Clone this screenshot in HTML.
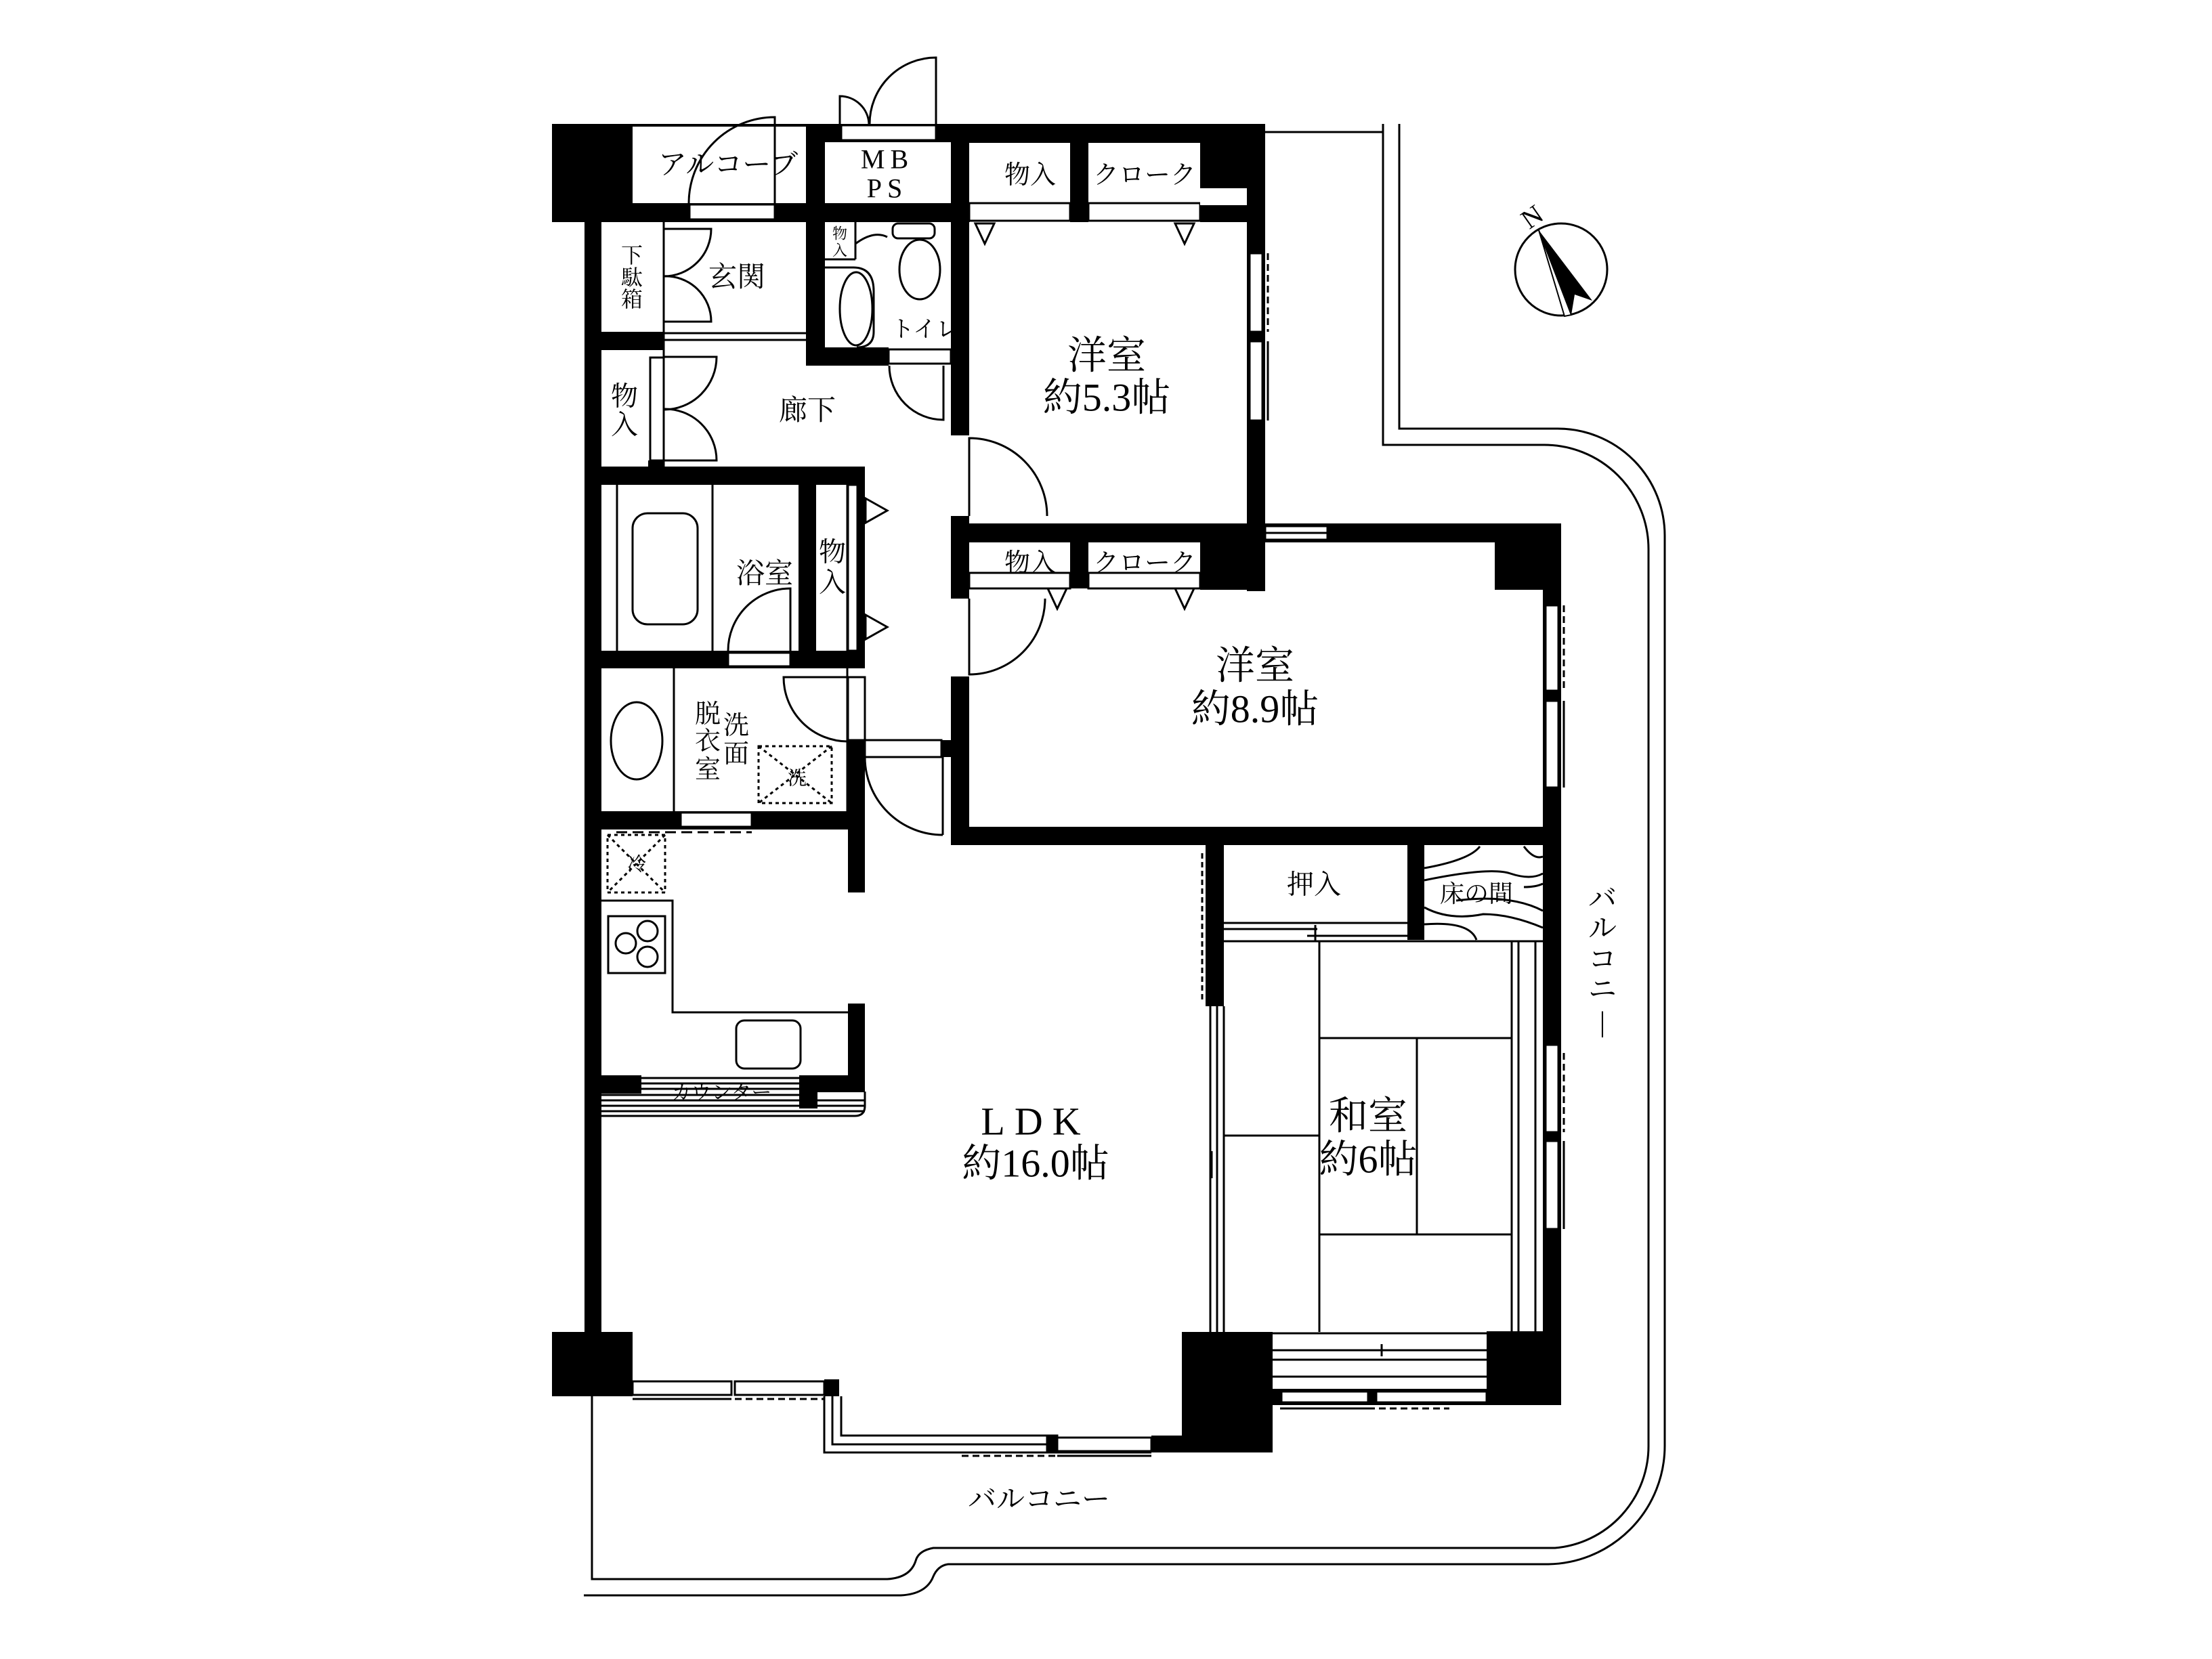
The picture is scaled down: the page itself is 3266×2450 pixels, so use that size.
<!DOCTYPE html>
<html><head><meta charset="utf-8"><style>
html,body{margin:0;padding:0;background:#fff;}
svg{display:block;}
text{font-family:"Liberation Serif","Noto Serif CJK SC",serif;fill:#000;}
</style></head><body>
<svg width="3266" height="2450" viewBox="0 0 3266 2450" xmlns="http://www.w3.org/2000/svg">
<rect width="3266" height="2450" fill="#fff"/>

<g fill="none" stroke="#000" stroke-width="3">
<line x1="1868" y1="195" x2="2042" y2="195"/>
<path d="M2042,183 V657 H2280 A154,154 0 0 1 2434,811 V2135 A151,151 0 0 1 2296,2286 H1378 Q1356,2290 1352,2305 Q1344,2330 1310,2332 H874 V2062"/>
<path d="M2066,183 V633 H2300 A158,158 0 0 1 2458,791 V2135 A175,175 0 0 1 2283,2310 H1400 Q1385,2312 1378,2328 Q1368,2354 1330,2356 H862"/>
</g>

<circle cx="2305" cy="398" r="68" fill="none" stroke="#000" stroke-width="3"/>
<polygon points="2272,340 2351,444 2325,435 2320,465" fill="#000"/>
<polygon points="2272,340 2320,465 2310,467" fill="#fff" stroke="#000" stroke-width="2"/>
<text x="2262" y="320" font-size="40" text-anchor="middle" dominant-baseline="central" font-family="Liberation Sans,sans-serif" transform="rotate(-35 2262 320)">N</text>

<g fill="#000">
<rect x="815" y="183" width="119" height="145"/>
<rect x="934" y="183" width="256" height="4"/>
<rect x="1190" y="183" width="28" height="357"/>
<rect x="934" y="300" width="256" height="28"/>
<rect x="1218" y="183" width="214" height="27"/>
<rect x="1192" y="300" width="240" height="28"/>
<rect x="1404" y="183" width="27" height="460"/>
<rect x="1404" y="762" width="27" height="122"/>
<rect x="1404" y="999" width="27" height="249"/>
<rect x="1431" y="183" width="437" height="28"/>
<rect x="1580" y="183" width="27" height="145"/>
<rect x="1772" y="183" width="96" height="95"/>
<rect x="1772" y="303" width="96" height="25"/>
<rect x="1841" y="183" width="27" height="690"/>
<rect x="1404" y="773" width="464" height="28"/>
<rect x="1580" y="801" width="27" height="68"/>
<rect x="1772" y="801" width="96" height="70"/>
<rect x="1868" y="773" width="436" height="28"/>
<rect x="2207" y="801" width="97" height="70"/>
<rect x="2278" y="773" width="27" height="1302"/>
<rect x="1404" y="1221" width="901" height="27"/>
<rect x="1780" y="1248" width="27" height="238"/>
<rect x="2078" y="1248" width="25" height="140"/>
<rect x="863" y="183" width="25" height="1784"/>
<rect x="865" y="490" width="115" height="27"/>
<rect x="957" y="680" width="23" height="20"/>
<rect x="863" y="689" width="414" height="27"/>
<rect x="1179" y="716" width="26" height="245"/>
<rect x="1266" y="689" width="11" height="298"/>
<rect x="863" y="961" width="414" height="26"/>
<rect x="863" y="1198" width="414" height="27"/>
<rect x="1252" y="1093" width="25" height="225"/>
<rect x="1252" y="1482" width="25" height="130"/>
<rect x="1390" y="1093" width="15" height="25"/>
<rect x="1192" y="513" width="120" height="27"/>
<rect x="815" y="1967" width="119" height="95"/>
<rect x="1745" y="1967" width="134" height="178"/>
<rect x="1700" y="2120" width="45" height="25"/>
<rect x="1217" y="2037" width="22" height="25"/>
<rect x="2195" y="1966" width="110" height="109"/>
<rect x="1879" y="2051" width="426" height="24"/>
<rect x="887" y="1588" width="60" height="27"/>
<rect x="1180" y="1588" width="27" height="49"/>
<rect x="1207" y="1588" width="70" height="25"/>
</g>

<g fill="#fff" stroke="#000" stroke-width="3">
<rect x="1018" y="302" width="126" height="22"/>
<rect x="1242" y="185" width="140" height="22"/>
<rect x="1431" y="300" width="149" height="26"/>
<rect x="1607" y="300" width="165" height="26"/>
<rect x="1772" y="278" width="69" height="25" stroke="none"/>
<rect x="1845" y="374" width="19" height="116"/>
<rect x="1845" y="504" width="19" height="117"/>
<rect x="1431" y="846" width="149" height="23"/>
<rect x="1607" y="846" width="165" height="23"/>
<rect x="1868" y="777" width="92" height="20"/>
<rect x="2282" y="894" width="19" height="126"/>
<rect x="2282" y="1035" width="19" height="128"/>
<rect x="2282" y="1543" width="19" height="129"/>
<rect x="2282" y="1685" width="19" height="130"/>
<rect x="1312" y="516" width="92" height="21"/>
<rect x="1075" y="964" width="92" height="20"/>
<rect x="1005" y="1200" width="105" height="21"/>
<rect x="1252" y="716" width="14" height="245"/>
<rect x="1252" y="1000" width="25" height="93"/>
<rect x="1277" y="1093" width="113" height="25"/>
<rect x="960" y="528" width="20" height="152"/>
<rect x="934" y="2040" width="146" height="20"/>
<rect x="1085" y="2040" width="132" height="20"/>
<rect x="1561" y="2123" width="139" height="20"/>
<rect x="1892" y="2055" width="128" height="16"/>
<rect x="2032" y="2055" width="163" height="16"/>
</g>

<g fill="none" stroke="#000" stroke-width="3">
<line x1="1872" y1="374" x2="1872" y2="490" stroke-dasharray="10,6"/>
<line x1="1872" y1="504" x2="1872" y2="621"/>
<line x1="2309" y1="894" x2="2309" y2="1020" stroke-dasharray="10,6"/>
<line x1="2309" y1="1035" x2="2309" y2="1163"/>
<line x1="2309" y1="1555" x2="2309" y2="1672" stroke-dasharray="10,6"/>
<line x1="2309" y1="1685" x2="2309" y2="1815"/>
<line x1="1868" y1="787" x2="1960" y2="787"/>
<line x1="980" y1="492" x2="1192" y2="492"/>
<line x1="980" y1="502" x2="1192" y2="502"/>
<line x1="980" y1="328" x2="980" y2="517"/>
<line x1="980" y1="517" x2="980" y2="689"/>
<line x1="934" y1="2066" x2="1080" y2="2066"/>
<line x1="1085" y1="2066" x2="1217" y2="2066" stroke-dasharray="10,6"/>
<path d="M1217,2062 V2145 H1700 M1229,2062 V2133 H1546 M1242,2062 V2120 H1546"/>
<rect x="1546" y="2120" width="15" height="25" fill="#000"/>
<line x1="1420" y1="2150" x2="1561" y2="2150" stroke-dasharray="10,6"/>
<line x1="1561" y1="2150" x2="1700" y2="2150"/>
<line x1="1890" y1="2080" x2="2020" y2="2080"/>
<line x1="2020" y1="2080" x2="2140" y2="2080" stroke-dasharray="10,6"/>
<line x1="1879" y1="1994" x2="2195" y2="1994"/>
<line x1="1879" y1="2008" x2="2195" y2="2008"/>
<line x1="1879" y1="2033" x2="2195" y2="2033"/>
<line x1="1879" y1="1969" x2="2195" y2="1969"/>
<line x1="2040" y1="1985" x2="2040" y2="2003"/>
<line x1="1948" y1="1390" x2="1948" y2="1967"/>
<line x1="1948" y1="1533" x2="2232" y2="1533"/>
<line x1="2092" y1="1533" x2="2092" y2="1823"/>
<line x1="1948" y1="1823" x2="2232" y2="1823"/>
<line x1="1807" y1="1677" x2="1948" y2="1677"/>
<line x1="1807" y1="1390" x2="2278" y2="1390"/>
<line x1="2232" y1="1390" x2="2232" y2="1967"/>
<line x1="2242" y1="1390" x2="2242" y2="1967"/>
<line x1="2267" y1="1390" x2="2267" y2="1967"/>
<line x1="1807" y1="1363" x2="2078" y2="1363"/>
<line x1="1807" y1="1372" x2="1945" y2="1372"/>
<line x1="1930" y1="1382" x2="2078" y2="1382"/>
<line x1="1942" y1="1366" x2="1942" y2="1390"/>
<line x1="1787" y1="1486" x2="1787" y2="1967"/>
<line x1="1797" y1="1486" x2="1797" y2="1967"/>
<line x1="1807" y1="1486" x2="1807" y2="1967"/>
<line x1="1789" y1="1700" x2="1789" y2="1740"/>
<line x1="1775" y1="1260" x2="1775" y2="1480" stroke-dasharray="8,5"/>
<path d="M2103,1282 Q2170,1270 2185,1250 M2103,1300 Q2200,1280 2230,1290 Q2260,1300 2278,1290 M2103,1340 Q2140,1360 2190,1350 Q2230,1350 2278,1370 M2103,1365 Q2170,1360 2180,1388 M2150,1330 Q2230,1320 2278,1345 M2250,1250 Q2265,1270 2278,1265 M2250,1310 Q2268,1310 2278,1305"/>
<path d="M888,1330 H993 V1495 H1252"/>
<rect x="898" y="1353" width="84" height="84"/>
<circle cx="956" cy="1375" r="15"/>
<circle cx="924" cy="1393" r="15"/>
<circle cx="956" cy="1413" r="15"/>
<rect x="1087" y="1507" width="95" height="71" rx="12"/>
<rect x="897" y="1233" width="85" height="85" stroke-dasharray="5,5"/>
<path d="M897,1233 L982,1318 M982,1233 L897,1318" stroke-dasharray="5,5"/>
<line x1="910" y1="1229" x2="1110" y2="1229" stroke-dasharray="16,8"/>
<path d="M947,1592 H1180 M947,1600 H1180 M947,1608 H1180 M888,1617 H1180 M888,1625 H1277 M888,1633 H1277 M888,1641 H1277"/>
<path d="M888,1648 H1262 Q1277,1648 1277,1633 V1612"/>
<rect x="1120" y="1102" width="108" height="84" stroke-dasharray="5,5"/>
<path d="M1120,1102 L1228,1186 M1228,1102 L1120,1186" stroke-dasharray="5,5"/>
<line x1="995" y1="987" x2="995" y2="1198"/>
<ellipse cx="940" cy="1094" rx="38" ry="57"/>
<line x1="1251" y1="987" x2="1251" y2="1198"/>
<line x1="911" y1="716" x2="911" y2="961"/>
<line x1="1052" y1="716" x2="1052" y2="961"/>
<rect x="934" y="758" width="96" height="164" rx="22"/>
<line x1="1251" y1="716" x2="1251" y2="961"/>
<polygon points="1278,736 1310,754 1278,772" fill="#fff"/>
<polygon points="1278,908 1310,926 1278,944" fill="#fff"/>
<line x1="1263" y1="328" x2="1263" y2="383"/>
<line x1="1217" y1="383" x2="1263" y2="383"/>
<rect x="1318" y="330" width="62" height="22" rx="8"/>
<ellipse cx="1358" cy="398" rx="30" ry="44"/>
<path d="M1217,395 H1260 Q1290,395 1290,430 V490 Q1290,513 1265,513"/>
<ellipse cx="1264" cy="456" rx="24" ry="54"/>
<path d="M1263,360 Q1290,340 1310,350"/>
<polygon points="1440,330 1468,330 1454,360" fill="#fff"/>
<polygon points="1735,330 1763,330 1749,360" fill="#fff"/>
<polygon points="1547,869 1575,869 1561,899" fill="#fff"/>
<polygon points="1735,869 1763,869 1749,899" fill="#fff"/>
<path d="M1144,300 V173 A127,127 0 0 0 1017,300"/>
<path d="M1240,183 V142 A43,43 0 0 1 1283,183"/>
<path d="M1382,183 V85 A98,98 0 0 0 1284,183"/>
<path d="M980,338 H1050 A70,70 0 0 1 980,408"/>
<path d="M980,475 H1050 A67,67 0 0 0 980,408"/>
<path d="M980,527 H1058 A78,78 0 0 1 980,605"/>
<path d="M980,680 H1058 A76,76 0 0 0 980,604"/>
<path d="M1393,540 V620 A80,80 0 0 1 1313,540"/>
<path d="M1431,762 V647 A115,115 0 0 1 1546,762"/>
<path d="M1431,884 V996 A112,112 0 0 0 1543,884"/>
<path d="M1167,961 V869 A92,92 0 0 0 1075,961"/>
<path d="M1252,1000 H1157 A95,95 0 0 0 1252,1095"/>
<path d="M1392,1233 V1118 M1277,1118 A115,115 0 0 0 1392,1233"/>
</g>

<g dominant-baseline="central" text-anchor="middle">
<text x="1075" y="244" font-size="42">アルコーブ</text>
<text x="1310" y="235" font-size="40" letter-spacing="8">MB</text>
<text x="1310" y="278" font-size="40" letter-spacing="8">PS</text>
<text x="1521" y="259" font-size="38">物入</text>
<text x="1690" y="259" font-size="38">クローク</text>
<text x="1521" y="832" font-size="38">物入</text>
<text x="1690" y="832" font-size="38">クローク</text>
<text x="933" y="377" font-size="32">下</text>
<text x="933" y="410" font-size="32">駄</text>
<text x="933" y="442" font-size="32">箱</text>
<text x="1088" y="410" font-size="42">玄関</text>
<text x="922" y="585" font-size="40">物</text>
<text x="922" y="627" font-size="40">入</text>
<text x="1192" y="607" font-size="42">廊下</text>
<text x="1240" y="345" font-size="22">物</text>
<text x="1240" y="370" font-size="22">入</text>
<text x="1366" y="487" font-size="34">トイレ</text>
<text x="1129" y="848" font-size="42">浴室</text>
<text x="1229" y="815" font-size="40">物</text>
<text x="1229" y="860" font-size="40">入</text>
<text x="1045" y="1055" font-size="38">脱</text>
<text x="1045" y="1095" font-size="38">衣</text>
<text x="1045" y="1137" font-size="38">室</text>
<text x="1087" y="1072" font-size="38">洗</text>
<text x="1087" y="1114" font-size="38">面</text>
<text x="1177" y="1150" font-size="28">洗</text>
<text x="940" y="1277" font-size="28">冷</text>
<text x="1065" y="1614" font-size="30">カウンター</text>
<text x="1634" y="525" font-size="58">洋室</text>
<text x="1634" y="587" font-size="58">約5.3帖</text>
<text x="1853" y="983" font-size="58">洋室</text>
<text x="1853" y="1047" font-size="58">約8.9帖</text>
<text x="1529" y="1656" font-size="58" letter-spacing="14">LDK</text>
<text x="1529" y="1718" font-size="58">約16.0帖</text>
<text x="2020" y="1648" font-size="58">和室</text>
<text x="2020" y="1712" font-size="58">約6帖</text>
<text x="1940" y="1306" font-size="40">押入</text>
<text x="2180" y="1320" font-size="36">床の間</text>
<text x="1534" y="2215" font-size="42">バルコニー</text>
<text x="2366" y="1328" font-size="42">バ</text>
<text x="2366" y="1372" font-size="42">ル</text>
<text x="2366" y="1418" font-size="42">コ</text>
<text x="2366" y="1462" font-size="42">ニ</text>
<text x="2366" y="1510" font-size="42">|</text>
</g>
</svg>
</body></html>
